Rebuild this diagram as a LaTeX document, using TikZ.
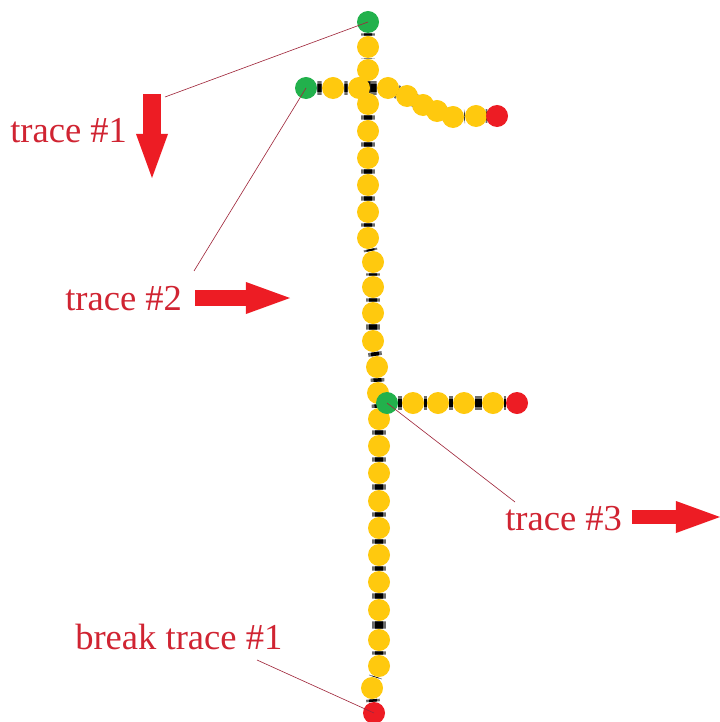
\documentclass[tikz,border=0pt]{standalone}
\usepackage{fontspec}
\setmainfont{Liberation Serif}
\usepackage{tikz}
\usetikzlibrary{arrows.meta}
\usetikzlibrary{backgrounds}
\definecolor{dotyellow}{RGB}{255,201,14}
\definecolor{dotgreen}{RGB}{34,177,76}
\definecolor{dotred}{RGB}{237,28,36}
\definecolor{labelred}{RGB}{208,36,50}
\definecolor{leaderred}{RGB}{160,40,60}
\tikzset{my_picture/.style={x=0.025cm,y=-0.025cm}}
\tikzset{my_dot/.style={circle, fill=dotyellow, inner sep=0pt, minimum size=0.55cm}}
\tikzset{my_start/.style={my_dot, fill=dotgreen}}
\tikzset{my_end/.style={my_dot, fill=dotred}}
\tikzset{my_trace/.style={draw=gray!85!black, line width=0.07cm, double=black, double distance=0.2cm}}
\tikzset{my_label/.style={anchor=base west, inner sep=0pt, text=labelred, font=\fontsize{26}{30}\selectfont}}
\tikzset{my_leader/.style={draw=leaderred, line width=0.45pt}}
\tikzset{my_arrow/.style={draw=dotred, line width=#1, -{Triangle[width=0.8cm, length=1.1cm, line width=0pt]}}}

\begin{document}
\begin{tikzpicture}[my_picture]
    \useasboundingbox (0,0) rectangle (720,722);
    %\draw[help lines, step=50] (0,0) grid (720,722);

    % trace 1: main vertical line
    \node[my_start] (a0) at (368,22) {};
    \node[my_dot] (a1) at (368,47) {};
    \node[my_dot] (a2) at (368,70) {};
    \node[my_dot] (a3) at (368,104) {};
    \node[my_dot] (a4) at (368,131) {};
    \node[my_dot] (a5) at (368,158) {};
    \node[my_dot] (a6) at (368,185) {};
    \node[my_dot] (a7) at (368,212) {};
    \node[my_dot] (a8) at (368,238) {};
    \node[my_dot] (a9) at (373,262) {};
    \node[my_dot] (a10) at (373,287) {};
    \node[my_dot] (a11) at (373,313) {};
    \node[my_dot] (a12) at (373,341) {};
    \node[my_dot] (a13) at (377,367) {};
    \node[my_dot] (a14) at (378,393) {};
    \node[my_dot] (a15) at (379,419) {};
    \node[my_dot] (a16) at (379,446) {};
    \node[my_dot] (a17) at (379,473) {};
    \node[my_dot] (a18) at (379,501) {};
    \node[my_dot] (a19) at (379,528) {};
    \node[my_dot] (a20) at (379,555) {};
    \node[my_dot] (a21) at (379,582) {};
    \node[my_dot] (a22) at (379,610) {};
    \node[my_dot] (a23) at (379,640) {};
    \node[my_dot] (a24) at (379,666) {};
    \node[my_dot] (a25) at (372,688) {};
    \node[my_end] (a26) at (374,713) {};

    % trace 2: top branch
    \node[my_start] (b0) at (306,88) {};
    \node[my_dot] (b1) at (333,88) {};
    \node[my_dot] (b2) at (359,88) {};
    \node[my_dot] (b3) at (388,88) {};
    \node[my_dot] (b4) at (407,96) {};
    \node[my_dot] (b5) at (423,105) {};
    \node[my_dot] (b6) at (437,111) {};
    \node[my_dot] (b7) at (453,117) {};
    \node[my_dot] (b8) at (476,116) {};
    \node[my_end] (b9) at (497,116) {};

    % trace 3: lower branch
    \node[my_start] (c0) at (387,403) {};
    \node[my_dot] (c1) at (413,403) {};
    \node[my_dot] (c2) at (438,403) {};
    \node[my_dot] (c3) at (464,403) {};
    \node[my_dot] (c4) at (493,403) {};
    \node[my_end] (c5) at (517,403) {};

    % wires under the dots
    \begin{pgfonlayer}{background}
    \path[my_trace]
        (a0) -- (a1) -- (a2) -- (a3) -- (a4) -- (a5) -- (a6) -- (a7) -- (a8)
        -- (a9) -- (a10) -- (a11) -- (a12) -- (a13) -- (a14) -- (a15) -- (a16)
        -- (a17) -- (a18) -- (a19) -- (a20) -- (a21) -- (a22) -- (a23) -- (a24)
        -- (a25) -- (a26);
    \path[my_trace]
        (b0) -- (b1) -- (b2) -- (b3) -- (b4) -- (b5) -- (b6) -- (b7) -- (b8) -- (b9);
    \path[my_trace]
        (c0) -- (c1) -- (c2) -- (c3) -- (c4) -- (c5);
    \end{pgfonlayer}

    % labels
    \node[my_label] (lab1) at (10,143) {trace \#1};
    \node[my_label] (lab2) at (65,310) {trace \#2};
    \node[my_label] (lab3) at (505,530) {trace \#3};
    \node[my_label] (lab4) at (75,649) {break trace \#1};

    \coordinate (end1) at (165,97);
    \coordinate (end2) at (194,271);
    \coordinate (end3) at (515,502);
    \coordinate (end4) at (257,660);

    \draw[my_leader] (a0.center) -- (end1);
    \draw[my_leader] (b0.center) -- (end2);
    \draw[my_leader] (c0.center) -- (end3);
    \draw[my_leader] (a26.center) -- (end4);

    % direction arrows
    \coordinate (dir1a) at (152,94);
    \coordinate (dir1b) at (152,178);
    \coordinate (dir2a) at (195,298);
    \coordinate (dir2b) at (290,298);
    \coordinate (dir3a) at (632,517);
    \coordinate (dir3b) at (720,517);

    \draw[my_arrow=0.47cm] (dir1a) -- (dir1b);
    \draw[my_arrow=0.38cm] (dir2a) -- (dir2b);
    \draw[my_arrow=0.36cm] (dir3a) -- (dir3b);
\end{tikzpicture}
\end{document}
